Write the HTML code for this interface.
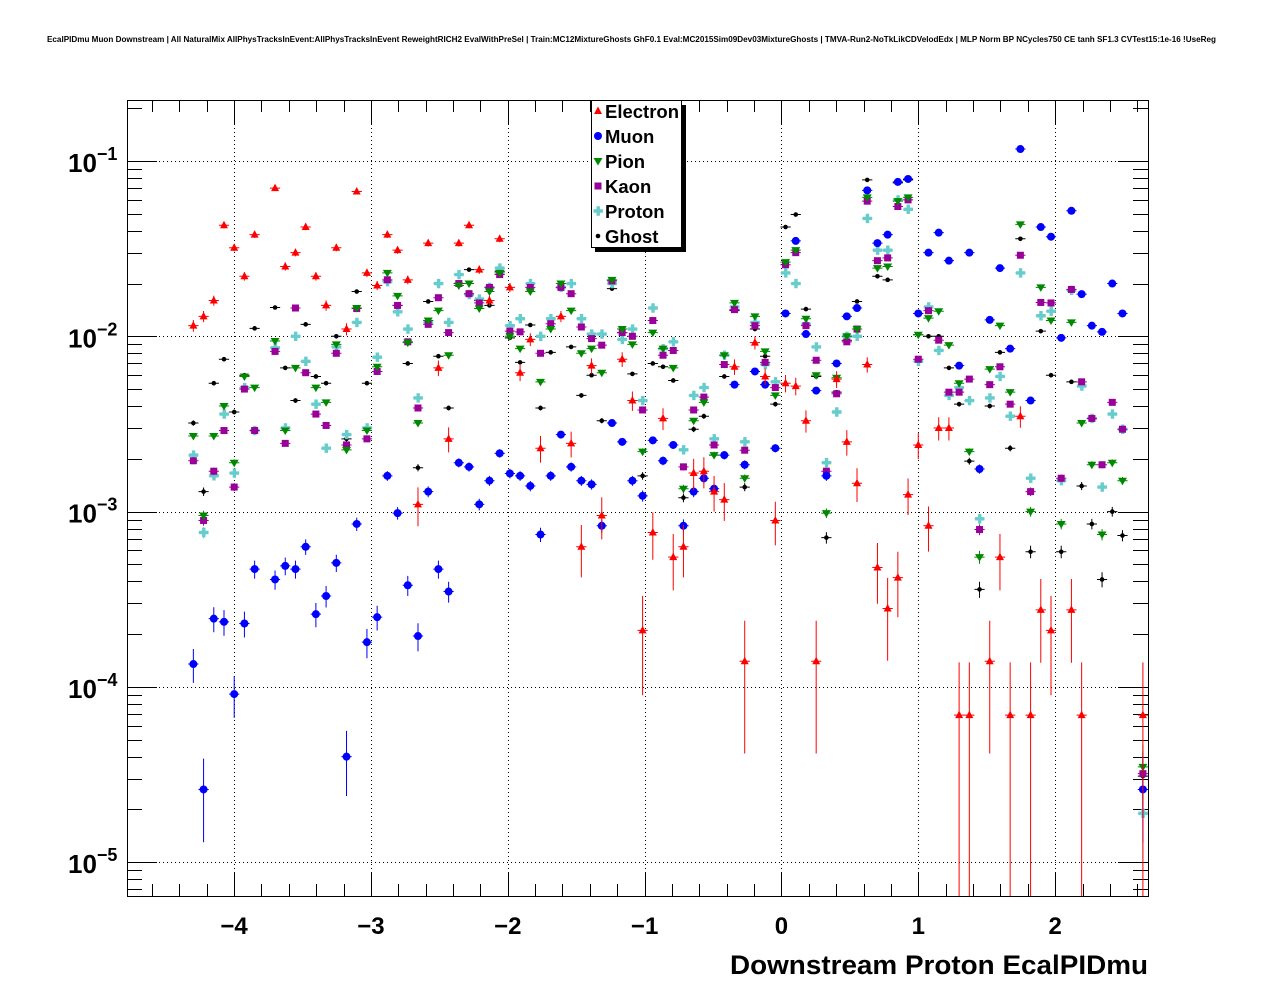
<!DOCTYPE html>
<html><head><meta charset="utf-8">
<style>
html,body{margin:0;padding:0;background:#fff;}
svg{display:block;font-family:"Liberation Sans",Arial,sans-serif;}
</style></head>
<body>
<svg id="chart" width="1276" height="996" viewBox="0 0 1276 996" xmlns="http://www.w3.org/2000/svg">
<rect x="0" y="0" width="1276" height="996" fill="#fff"/>
<text x="47" y="42" font-size="8" font-weight="bold" textLength="1169" lengthAdjust="spacingAndGlyphs">EcalPIDmu Muon Downstream | All NaturalMix AllPhysTracksInEvent:AllPhysTracksInEvent ReweightRICH2 EvalWithPreSel | Train:MC12MixtureGhosts GhF0.1 Eval:MC2015Sim09Dev03MixtureGhosts | TMVA-Run2-NoTkLikCDVelodEdx | MLP Norm BP NCycles750 CE tanh SF1.3 CVTest15:1e-16 !UseReg</text>
<g id="grid"></g>
<g id="axes"></g>
<g id="series"></g>
<rect x="127.5" y="100.5" width="1021" height="796" fill="none" stroke="#000" stroke-width="1"/>
<text x="730" y="974" font-size="27" font-weight="bold" textLength="418" lengthAdjust="spacingAndGlyphs">Downstream Proton EcalPIDmu</text>
<g id="legend"></g>
</svg>
<script>
// ---- data ----
const xTicks = [-4, -3, -2, -1, 0, 1, 2];
const xTickLabels = ["\u22124", "\u22123", "\u22122", "\u22121", "0", "1", "2"];
const yDecades = [-5, -4, -3, -2, -1];
const seriesNames = ["Electron", "Muon", "Pion", "Kaon", "Proton", "Ghost"];

const electronBin = [6,7,8,9,10,11,12,14,15,16,17,18,19,20,21,22,23,24,25,26,27,28,29,30,31,32,33,34,35,36,37,38,39,40,42,43,44,45,46,48,49,50,51,52,53,54,55,56,57,58,59,60,61,62,63,64,65,66,67,69,70,71,72,73,74,75,76,77,78,79,80,81,82,84,85,86,87,88,89,90,92,93,99];
const electronVal = [1.15e-2,1.3e-2,1.6e-2,4.3e-2,3.2e-2,2.2e-2,3.8e-2,7.0e-2,2.5e-2,3.0e-2,4.2e-2,2.2e-2,1.5e-2,3.2e-2,1.1e-2,6.7e-2,2.3e-2,1.95e-2,3.8e-2,3.1e-2,2.1e-2,1.1e-3,3.4e-2,6.6e-3,2.6e-3,3.4e-2,4.3e-2,2.4e-2,1.6e-2,3.6e-2,1.9e-2,6.2e-3,9.6e-3,2.3e-3,1.3e-2,2.45e-3,6.3e-4,6.8e-3,9.5e-4,7.4e-3,4.3e-3,2.1e-4,7.6e-4,3.4e-3,5.5e-4,6.3e-4,1.66e-3,1.7e-3,1.3e-3,1.17e-3,6.7e-3,1.4e-4,9.2e-3,5.9e-3,8.9e-4,5.4e-3,5.2e-3,3.3e-3,1.4e-4,5.7e-3,2.5e-3,1.45e-3,6.9e-3,4.8e-4,2.8e-4,4.2e-4,1.25e-3,2.4e-3,8.3e-4,3.0e-3,3.0e-3,6.9e-5,6.9e-5,1.4e-4,5.5e-4,6.9e-5,3.5e-3,6.9e-5,2.75e-4,2.1e-4,2.75e-4,6.9e-5,6.9e-5];

const muonBin = [6,7,8,9,10,11,12,14,15,16,17,18,19,20,21,22,23,24,25,26,27,28,29,30,31,32,33,34,35,36,37,38,39,40,41,42,43,44,45,46,47,48,49,50,51,52,53,54,55,56,57,58,59,60,61,62,63,64,65,66,67,68,69,70,71,72,73,74,75,76,77,78,79,80,81,82,83,84,85,86,87,88,89,90,91,92,93,94,95,96,97,99];
const muonVal = [1.35e-4,2.6e-5,2.45e-4,2.35e-4,9.1e-5,2.3e-4,4.7e-4,4.1e-4,4.9e-4,4.7e-4,6.3e-4,2.6e-4,3.3e-4,5.1e-4,4.0e-5,8.5e-4,1.8e-4,2.5e-4,1.6e-3,9.8e-4,3.8e-4,1.95e-4,1.3e-3,4.7e-4,3.5e-4,1.9e-3,1.8e-3,1.1e-3,1.5e-3,2.15e-3,1.65e-3,1.6e-3,1.4e-3,7.4e-4,1.6e-3,2.75e-3,1.8e-3,1.5e-3,1.43e-3,8.3e-4,3.2e-3,2.5e-3,1.5e-3,1.23e-3,2.55e-3,1.95e-3,2.4e-3,8.3e-4,1.3e-3,1.55e-3,1.35e-3,2.1e-3,5.3e-3,1.85e-3,6.3e-3,5.3e-3,2.3e-3,1.35e-2,3.5e-2,1.03e-2,4.9e-3,1.6e-3,7.0e-3,1.3e-2,1.45e-2,6.8e-2,3.4e-2,3.8e-2,7.6e-2,7.9e-2,1.35e-2,3.0e-2,3.9e-2,2.7e-2,6.8e-3,3.0e-2,1.75e-3,1.24e-2,2.45e-2,8.5e-3,0.117,4.3e-3,4.2e-2,3.7e-2,9.8e-3,5.2e-2,1.74e-2,1.15e-2,1.06e-2,2.0e-2,1.35e-2,2.6e-5];

const pionBin = [6,7,8,9,10,11,12,14,15,16,18,19,20,21,22,23,24,25,26,27,28,29,30,31,32,33,34,35,36,37,38,39,40,41,42,43,44,45,46,47,48,49,50,51,52,53,54,55,56,57,58,59,60,61,62,63,64,65,66,67,68,69,70,71,72,73,74,75,76,77,78,79,80,81,82,83,84,85,86,87,88,89,90,91,92,93,94,95,96,97,99];
const pionVal = [2.7e-3,9.5e-4,2.7e-3,4.0e-3,1.9e-3,5.9e-3,5.1e-3,9.4e-3,2.9e-3,6.6e-3,5.1e-3,4.2e-3,9.0e-3,2.25e-3,1.45e-2,2.9e-3,6.7e-3,2.3e-2,1.7e-2,9.2e-3,3.2e-3,1.23e-2,1.4e-2,7.8e-3,1.95e-2,2.0e-2,1.44e-2,1.8e-2,2.3e-2,1.0e-2,8.5e-3,1.8e-2,5.5e-3,1.1e-2,2.0e-2,1.4e-2,8.0e-3,8.5e-3,6.2e-3,2.1e-2,1.1e-2,9.0e-3,2.2e-3,1.05e-2,8.5e-3,6.6e-3,1.35e-3,3.3e-3,4.2e-3,2.1e-3,7.8e-3,1.55e-2,1.55e-3,1.3e-2,8.2e-3,4.6e-3,2.65e-2,3.1e-2,1.26e-2,6.0e-3,9.8e-4,5.8e-3,1.0e-2,1.1e-2,6.2e-2,2.45e-2,2.5e-2,5.9e-2,6.2e-2,1.02e-2,1.27e-2,1.39e-2,8.9e-3,5.4e-3,2.2e-3,5.5e-4,6.5e-3,1.15e-2,4.8e-3,4.35e-2,1.0e-3,1.9e-2,1.23e-2,8.5e-4,1.2e-2,3.2e-3,1.85e-3,7.4e-4,1.9e-3,1.5e-3,3.5e-5];

const kaonBin = [6,7,8,9,10,11,12,14,15,16,17,18,19,20,21,22,23,24,25,26,27,28,29,30,31,32,33,34,35,36,37,38,39,40,41,42,43,44,45,46,47,48,49,50,51,52,53,54,55,56,57,58,59,60,61,62,63,64,65,66,67,68,69,70,71,72,73,74,75,76,77,78,79,80,81,82,83,84,85,86,87,88,89,90,91,92,93,94,95,96,97,99];
const kaonVal = [1.95e-3,8.9e-4,1.7e-3,2.9e-3,1.38e-3,5.0e-3,2.9e-3,8.2e-3,2.45e-3,1.45e-2,6.2e-3,3.6e-3,3.1e-3,8.0e-3,2.4e-3,1.44e-2,2.6e-3,6.3e-3,2.1e-2,1.5e-2,9.3e-3,3.9e-3,1.17e-2,1.66e-2,1.05e-2,2.0e-2,1.75e-2,1.55e-2,1.9e-2,2.25e-2,1.07e-2,1.06e-2,1.9e-2,8.0e-3,1.18e-2,1.9e-2,1.75e-2,1.13e-2,9.7e-3,8.9e-3,2.07e-2,1.05e-2,1.0e-2,3.8e-3,1.23e-2,7.8e-3,8.3e-3,1.8e-3,3.8e-3,4.5e-3,2.4e-3,6.9e-3,1.42e-2,2.24e-3,1.15e-2,7.1e-3,5.1e-3,2.56e-2,3.0e-2,1.15e-2,7.3e-3,1.7e-3,4.7e-3,9.3e-3,1.1e-2,5.9e-2,2.7e-2,2.8e-2,5.5e-2,6.0e-2,7.4e-3,1.4e-2,9.5e-3,4.8e-3,4.8e-3,5.7e-3,7.9e-4,5.3e-3,6.7e-3,4.1e-3,2.9e-2,1.3e-3,1.56e-2,1.55e-2,1.55e-3,1.85e-2,5.5e-3,3.4e-3,1.85e-3,4.2e-3,2.95e-3,3.2e-5];

const protonBin = [6,7,8,9,10,11,12,14,15,16,17,18,19,20,21,22,23,24,25,26,27,28,29,30,31,32,33,34,35,36,37,38,39,40,41,42,43,44,45,46,47,48,49,50,51,52,53,54,55,56,57,58,59,60,61,62,63,64,65,66,67,68,69,70,71,72,73,74,75,76,77,78,79,80,81,82,83,84,85,86,87,88,89,90,91,92,93,94,95,96,97,99];
const protonVal = [2.1e-3,7.6e-4,1.6e-3,3.6e-3,1.66e-3,5.1e-3,2.9e-3,8.6e-3,3.0e-3,1.0e-2,7.2e-3,4.1e-3,2.3e-3,8.7e-3,2.75e-3,1.2e-2,3.0e-3,7.6e-3,2.05e-2,1.38e-2,1.1e-2,4.45e-3,1.2e-2,2.0e-2,1.2e-2,2.25e-2,1.73e-2,1.63e-2,1.9e-2,2.45e-2,1.15e-2,1.26e-2,2.0e-2,1.0e-2,1.26e-2,1.9e-2,2.0e-2,1.26e-2,1.03e-2,1.03e-2,2.0e-2,9.6e-3,1.1e-2,4.3e-3,1.45e-2,8.5e-3,9.3e-3,2.25e-3,4.6e-3,5.1e-3,2.6e-3,7.8e-3,1.47e-2,2.5e-3,1.2e-2,6.9e-3,5.5e-3,2.3e-2,2.0e-2,1.17e-2,8.7e-3,1.9e-3,3.7e-3,1.0e-2,1.0e-2,4.7e-2,3.1e-2,3.1e-2,6.0e-2,5.3e-2,7.2e-3,1.47e-2,8.3e-3,4.6e-3,5.1e-3,4.3e-3,9.1e-4,4.45e-3,5.9e-3,3.5e-3,2.3e-2,1.55e-3,1.31e-2,1.39e-2,1.5e-3,1.83e-2,5.2e-3,3.4e-3,1.38e-3,3.6e-3,2.95e-3,1.9e-5];

const ghostBin = [6,7,8,9,10,11,12,14,15,16,17,18,19,20,21,22,23,24,26,27,28,29,30,31,32,33,34,35,36,37,38,39,40,41,42,43,44,45,46,47,48,49,50,51,52,53,54,55,56,57,58,59,60,61,62,63,64,65,66,67,68,69,70,71,72,73,74,75,76,77,78,79,80,81,82,83,84,85,86,87,88,89,90,91,92,93,94,95,96,97,99];
const ghostVal = [3.2e-3,1.3e-3,5.4e-3,7.4e-3,3.7e-3,6.0e-3,1.11e-2,1.46e-2,6.6e-3,4.3e-3,1.17e-2,5.9e-3,5.4e-3,1.0e-2,2.6e-3,1.8e-2,5.4e-3,6.3e-3,1.5e-2,7.0e-3,1.78e-3,1.58e-2,7.7e-3,3.9e-3,2.0e-2,2.4e-2,1.6e-2,1.5e-2,2.35e-2,9.8e-3,7.1e-3,1.16e-2,3.9e-3,8.1e-3,1.9e-2,8.7e-3,4.6e-3,6.0e-3,3.3e-3,1.87e-2,1.05e-2,6.1e-3,1.6e-3,7.0e-3,6.7e-3,5.6e-3,1.2e-3,2.95e-3,3.5e-3,2.1e-3,5.9e-3,1.4e-2,1.38e-3,1.1e-2,7.7e-3,4.1e-3,4.2e-2,4.95e-2,1.43e-2,5.9e-3,7.1e-4,4.8e-3,9.5e-3,1.58e-2,7.8e-2,2.2e-2,2.1e-2,7.5e-2,7.8e-2,1.02e-2,1.0e-2,1.0e-2,6.6e-3,4.1e-3,1.94e-3,3.6e-4,4.0e-3,8.1e-3,2.3e-3,3.6e-2,5.9e-4,1.07e-2,6.0e-3,5.9e-4,5.5e-3,1.4e-3,8.5e-4,4.1e-4,1.0e-3,7.3e-4,3.1e-5];

// ---- axes ----
const X0 = 127, X1 = 1148, Y0 = 100, Y1 = 896;
const xMin = -4.782, xMax = 2.678, nBins = 100;
const binW = (xMax - xMin) / nBins;
function xPix(x) { return X0 + (x - xMin) / (xMax - xMin) * (X1 - X0); }
function yPix(v) { return 161 - (Math.log10(v) + 1) * 175.3; }
function binCenter(j) { return xMin + binW * (j + 0.5); }

const NS = "http://www.w3.org/2000/svg";
function mk(tag, attrs, parent) {
  const e = document.createElementNS(NS, tag);
  for (const k in attrs) e.setAttribute(k, attrs[k]);
  parent.appendChild(e);
  return e;
}
const grid = document.getElementById("grid");
const axes = document.getElementById("axes");
const series = document.getElementById("series");
const legend = document.getElementById("legend");

xTicks.forEach(t => {
  const x = Math.round(xPix(t)) + 0.5;
  const l = mk("line", {x1: x, x2: x, y1: Y0, y2: Y1, stroke: "#000", "stroke-width": 1, "stroke-dasharray": "1,3"}, grid);
  
  
});
yDecades.forEach(d => {
  const y = Math.round(yPix(Math.pow(10, d))) + 0.5;
  const l = mk("line", {x1: X0, x2: X1, y1: y, y2: y, stroke: "#000", "stroke-width": 1, "stroke-dasharray": "1,3"}, grid);
  
  
});

for (let t = -4.6; t <= 2.61; t += 0.2) {
  const tr = Math.round(t * 10) / 10;
  const major = Math.abs(tr - Math.round(tr)) < 1e-6;
  const len = major ? 24 : 12;
  const x = Math.round(xPix(tr)) + 0.5;
  const a = mk("line", {x1: x, x2: x, y1: Y1, y2: Y1 - len, stroke: "#000", "stroke-width": 1}, axes);
  
  
  const b = mk("line", {x1: x, x2: x, y1: Y0, y2: Y0 + len, stroke: "#000", "stroke-width": 1}, axes);
  
  
}
xTicks.forEach((t, i) => {
  const tx = mk("text", {x: xPix(t), y: 934, "font-size": 24, "font-weight": "bold", "text-anchor": "middle"}, axes);
  tx.textContent = xTickLabels[i];
  
  
});

for (let d = -6; d <= -1; d++) {
  for (let m = 1; m <= 9; m++) {
    const v = m * Math.pow(10, d);
    const y = yPix(v);
    if (y < Y0 || y > Y1) continue;
    const len = m === 1 ? 30 : 15;
    const yy = Math.round(y) + 0.5;
    const a = mk("line", {x1: X0, x2: X0 + len, y1: yy, y2: yy, stroke: "#000", "stroke-width": 1}, axes);
    
    
    const b = mk("line", {x1: X1, x2: X1 - len, y1: yy, y2: yy, stroke: "#000", "stroke-width": 1}, axes);
    
    
  }
}
yDecades.forEach(d => {
  const y = yPix(Math.pow(10, d));
  const tx = mk("text", {x: 68, y: y + 11, "font-size": 26, "font-weight": "bold"}, axes);
  
  
  const t1 = mk("tspan", {}, tx); t1.textContent = "10";
  const t2 = mk("tspan", {dy: -12, "font-size": 18}, tx); t2.textContent = "\u2212" + (-d);
});

const styles = {
  Electron: {c: "#ff0000", m: "tri", unit: 6.9e-5},
  Muon: {c: "#0000ff", m: "circ", unit: 6.5e-6},
  Pion: {c: "#008800", m: "tridown", unit: 4e-6},
  Kaon: {c: "#990099", m: "sq", unit: 4e-6},
  Proton: {c: "#66cccc", m: "cross", unit: 4e-6},
  Ghost: {c: "#000000", m: "dot", unit: 4e-6}
};
function marker(g, type, x, y, c) {
  let e;
  if (type === "tri") e = mk("polygon", {points: `${x},${y-4.5} ${x-4},${y+3} ${x+4},${y+3}`, fill: c}, g);
  else if (type === "tridown") e = mk("polygon", {points: `${x},${y+4.5} ${x-4.5},${y-3} ${x+4.5},${y-3}`, fill: c}, g);
  else if (type === "circ") e = mk("circle", {cx: x, cy: y, r: 4, fill: c}, g);
  else if (type === "sq") e = mk("rect", {x: x-3.5, y: y-3.5, width: 7, height: 7, fill: c}, g);
  else if (type === "cross") e = mk("path", {d: `M${x-4.5},${y-1.7}h3v-3h3.4v3h3v3.4h-3v3h-3.4v-3h-3z`, fill: c}, g);
  else e = mk("circle", {cx: x, cy: y, r: 2.3, fill: c}, g);
  return e;
}
const seriesBins = [electronBin, muonBin, pionBin, kaonBin, protonBin, ghostBin];
const seriesVals = [electronVal, muonVal, pionVal, kaonVal, protonVal, ghostVal];
const drawOrder = [5, 4, 3, 2, 1, 0];
drawOrder.forEach(si => {
  const name = seriesNames[si], st = styles[name];
  const g = mk("g", {}, series);
  
  
  const bins = seriesBins[si], vals = seriesVals[si];
  bins.forEach((j, k) => {
    const v = vals[k];
    const xc = binCenter(j);
    const x = xPix(xc), y = yPix(v);
    const n = v / st.unit;
    const err = v / Math.sqrt(n);
    const yTop = Math.max(Y0, yPix(v + err));
    const lo = v - err;
    const yBot = lo > 0 ? Math.min(Y1, yPix(lo)) : Y1;
    const eb = mk("path", {d: `M${xPix(xc - binW/2)},${y}H${xPix(xc + binW/2)}M${x},${yTop}V${yBot}`, stroke: st.c, "stroke-width": 1, fill: "none"}, g);
    
    
    const m = marker(g, st.m, x, y, st.c);
    
    
  });
});

const lshadow = mk("rect", {x: 595, y: 105, width: 91, height: 147, fill: "#000"}, legend);


const lbox = mk("rect", {x: 591.5, y: 100.5, width: 90, height: 147, fill: "#fff", stroke: "#000", "stroke-width": 1}, legend);


seriesNames.forEach((name, i) => {
  const st = styles[name];
  const y = 111 + i * 25;
  const g = mk("g", {}, legend);
  
  
  marker(g, st.m, 598, y, st.c);
  const t = mk("text", {x: 605, y: y + 7, "font-size": 18.5, "font-weight": "bold"}, g);
  t.textContent = name;
  
  
});
</script>
</body></html>
